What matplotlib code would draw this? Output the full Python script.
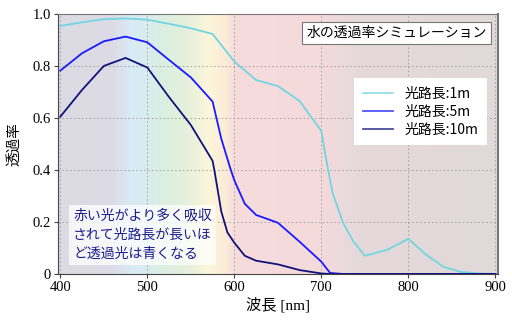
import matplotlib
matplotlib.use("Agg")
import matplotlib.pyplot as plt
import numpy as np
from matplotlib.colors import LinearSegmentedColormap

# data
wl_1m = [400, 425, 450, 475, 500, 525, 550, 575, 600, 625, 650, 675, 700, 705,
         713, 725, 737, 750, 775, 800, 820, 840, 860, 880, 900]
t_1m = [0.954, 0.968, 0.980, 0.983, 0.978, 0.962, 0.945, 0.923, 0.817, 0.746,
        0.723, 0.665, 0.550, 0.450, 0.310, 0.196, 0.124, 0.070, 0.092, 0.135,
        0.075, 0.028, 0.008, 0.002, 0.0]

wl_5m = [400, 425, 450, 475, 500, 525, 550, 575, 585, 595, 600, 612, 625, 650,
         675, 700, 710, 725, 900]
t_5m = [0.782, 0.849, 0.895, 0.913, 0.891, 0.823, 0.756, 0.663, 0.52, 0.41,
        0.36, 0.27, 0.227, 0.197, 0.124, 0.047, 0.004, 0.0, 0.0]

wl_10m = [400, 425, 450, 475, 500, 525, 550, 575, 577, 585, 592, 600, 612, 625,
          650, 675, 700, 710, 900]
t_10m = [0.605, 0.708, 0.800, 0.831, 0.794, 0.680, 0.573, 0.435, 0.40, 0.24,
         0.16, 0.12, 0.07, 0.051, 0.037, 0.015, 0.002, 0.0, 0.0]

labels = ["光路長:1m", "光路長:5m", "光路長:10m"]
colors = ["#72d6e0", "#1a1aff", "#12127a"]

# background spectrum stops
bg_wl = [397, 460, 480, 500, 520, 545, 570, 590, 600, 700, 740, 903]
bg_col = ["#dcdae2", "#dcdce6", "#d9ebf5", "#d9ecef", "#dcefe0", "#e6f0dc",
          "#fdf6da", "#fbebd9", "#f7dcdd", "#f5dadc", "#e6d9db", "#e0d8d9"]

jp = ["Noto Sans CJK JP", "DejaVu Sans"]
serif = ["Liberation Serif", "DejaVu Serif"]
serif_jp = ["Liberation Serif", "Noto Sans CJK JP"]

fig = plt.figure(figsize=(5.12, 3.25), dpi=100)
ax = fig.add_axes([0.1127, 0.157, 0.86, 0.8])

lo, hi = 397, 903
cmap = LinearSegmentedColormap.from_list(
    "spec", [((w - lo) / (hi - lo), c) for w, c in zip(bg_wl, bg_col)])
ax.imshow(np.linspace(0, 1, 512).reshape(1, -1), cmap=cmap, aspect="auto",
          extent=[lo, hi, 0, 1], zorder=0)

for x, y, lab, c in zip([wl_1m, wl_5m, wl_10m], [t_1m, t_5m, t_10m], labels, colors):
    ax.plot(x, y, color=c, lw=1.3, label=lab, zorder=3)

ax.set_xlim(lo, hi)
ax.set_ylim(0, 1.0)
ax.set_xticks([400, 500, 600, 700, 800, 900])
ax.set_yticks([0, 0.2, 0.4, 0.6, 0.8, 1.0])
ax.set_yticklabels(["0", "0.2", "0.4", "0.6", "0.8", "1.0"])
for lab in ax.get_xticklabels() + ax.get_yticklabels():
    lab.set_family(serif)
    lab.set_fontsize(10.5)
ax.tick_params(direction="out", length=3, width=0.8, color="#444", pad=2)
ax.grid(True, ls=(0, (1.5, 2.5)), color="#a0a0a0", lw=0.7, zorder=1)
for s in ["left", "bottom"]:
    ax.spines[s].set_color("#444")
for s in ["top", "right"]:
    ax.spines[s].set_color("#777")
ax.spines["right"].set_linewidth(1.5)

ax.set_ylabel("透過率", family=jp, fontsize=10.5, labelpad=8)
ax.set_xlabel("波長 [nm]", family=serif_jp, fontsize=11, labelpad=2)

leg = ax.legend(loc="upper right", bbox_to_anchor=(0.99, 0.78), prop={"family": jp, "size": 10},
                frameon=True, fancybox=False, edgecolor="none", framealpha=1,
                handlelength=2.2, borderpad=0.6, labelspacing=0.3)
for h in leg.get_lines():
    h.set_alpha(0.75)

ax.text(0.975, 0.955, "水の透過率シミュレーション", transform=ax.transAxes,
        ha="right", va="top", family=jp, fontsize=10, zorder=5,
        bbox=dict(boxstyle="square,pad=0.3", fc="white", ec="#777", lw=0.8))

ax.text(0.035, 0.25, "赤い光がより多く吸収\nされて光路長が長いほ\nど透過光は青くなる",
        transform=ax.transAxes, ha="left", va="top", family=jp, fontsize=10,
        color="#1c1c8c", linespacing=1.45, zorder=5,
        bbox=dict(boxstyle="square,pad=0.3", fc="white", ec="none", alpha=0.75))

plt.savefig("out.png", dpi=100)
plt.close()
